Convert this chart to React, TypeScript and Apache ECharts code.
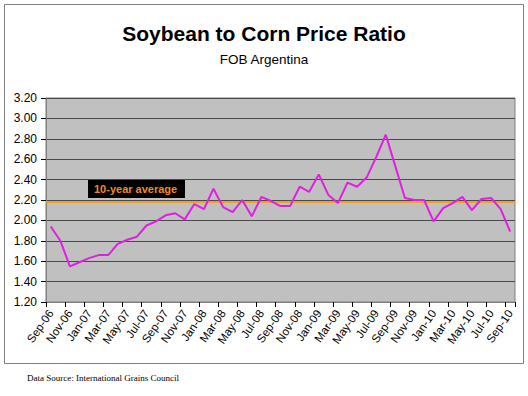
import React, { useEffect, useRef } from "react";
import * as echarts from "echarts";

const categories = [
  "Sep-06","Oct-06","Nov-06","Dec-06","Jan-07","Feb-07","Mar-07","Apr-07","May-07","Jun-07","Jul-07","Aug-07",
  "Sep-07","Oct-07","Nov-07","Dec-07","Jan-08","Feb-08","Mar-08","Apr-08","May-08","Jun-08","Jul-08","Aug-08",
  "Sep-08","Oct-08","Nov-08","Dec-08","Jan-09","Feb-09","Mar-09","Apr-09","May-09","Jun-09","Jul-09","Aug-09",
  "Sep-09","Oct-09","Nov-09","Dec-09","Jan-10","Feb-10","Mar-10","Apr-10","May-10","Jun-10","Jul-10","Aug-10",
  "Sep-10",
];

const ratio = [
  1.94, 1.80, 1.55, 1.59, 1.63, 1.66, 1.66, 1.77, 1.81, 1.84, 1.95, 1.99,
  2.05, 2.07, 2.01, 2.16, 2.11, 2.31, 2.13, 2.08, 2.20, 2.04, 2.23, 2.19,
  2.14, 2.14, 2.33, 2.28, 2.45, 2.25, 2.17, 2.37, 2.33, 2.42, 2.62, 2.84,
  2.53, 2.22, 2.20, 2.20, 1.99, 2.12, 2.17, 2.23, 2.10, 2.21, 2.22, 2.11,
  1.89,
];

const tenYearAverage = 2.18;

export default function App() {
  const ref = useRef<HTMLDivElement>(null);
  useEffect(() => {
    if (!ref.current) return;
    const chart = echarts.init(ref.current, undefined, { renderer: "svg" });
    chart.setOption({
      animation: false,
      backgroundColor: "#ffffff",
      title: [
        {
          text: "Soybean to Corn Price Ratio",
          left: "center",
          top: 18,
          textStyle: { fontFamily: "Arial, Liberation Sans", fontSize: 21, fontWeight: "bold", color: "#000" },
        },
        {
          text: "FOB Argentina",
          left: "center",
          top: 47,
          textStyle: { fontFamily: "Arial, Liberation Sans", fontSize: 13.5, fontWeight: "normal", color: "#000" },
        },
      ],
      grid: { left: 46, right: 13, top: 98, bottom: 94, show: true, backgroundColor: "#c0c0c0", borderColor: "#808080", borderWidth: 1 },
      xAxis: {
        type: "category",
        data: categories,
        boundaryGap: true,
        axisLine: { show: true, lineStyle: { color: "#808080", width: 1 } },
        axisTick: { show: true, interval: 1, length: 5, lineStyle: { color: "#000" } },
        axisLabel: {
          interval: 1,
          rotate: 55,
          margin: 9,
          fontFamily: "Arial, Liberation Sans",
          fontSize: 11.5,
          color: "#000",
        },
        splitLine: { show: false },
      },
      yAxis: {
        type: "value",
        min: 1.2,
        max: 3.2,
        interval: 0.2,
        axisLine: { show: true, lineStyle: { color: "#808080" } },
        axisTick: { show: true, length: 5, lineStyle: { color: "#000" } },
        axisLabel: {
          formatter: (v: number) => v.toFixed(2),
          fontFamily: "Arial, Liberation Sans",
          fontSize: 12,
          color: "#000",
          margin: 9,
        },
        splitLine: { show: true, lineStyle: { color: "#4a4a4a", width: 1 } },
      },
      series: [
        {
          type: "line",
          name: "Ratio",
          data: ratio,
          symbol: "none",
          lineStyle: { color: "#e020e0", width: 2 },
          z: 3,
          markLine: {
            silent: true,
            symbol: "none",
            label: { show: false },
            lineStyle: { color: "#f0a030", width: 2, type: "solid" },
            data: [{ yAxis: tenYearAverage }],
            z: 2,
          },
        },
      ],
      graphic: [
        {
          type: "rect",
          shape: { x: 4.5, y: 4.5, width: 519, height: 359 },
          style: { fill: "none", stroke: "#808080", lineWidth: 1 },
          silent: true,
        },
        {
          type: "rect",
          shape: { x: 88, y: 180, width: 97, height: 18 },
          style: { fill: "#000000" },
          z: 10,
        },
        {
          type: "text",
          x: 94,
          y: 189,
          z: 11,
          style: {
            text: "10-year average",
            fill: "#f08a20",
            font: "bold 11px Arial, Liberation Sans",
            verticalAlign: "middle",
          },
        },
        {
          type: "text",
          x: 27,
          y: 378,
          style: {
            text: "Data Source: International Grains Council",
            fill: "#000",
            font: "9px 'Times New Roman', 'Liberation Serif', serif",
            verticalAlign: "middle",
          },
        },
      ],
    });
    return () => chart.dispose();
  }, []);
  return <div ref={ref} style={{ width: 528, height: 396, position: "absolute", left: 0, top: 0 }} />;
}
